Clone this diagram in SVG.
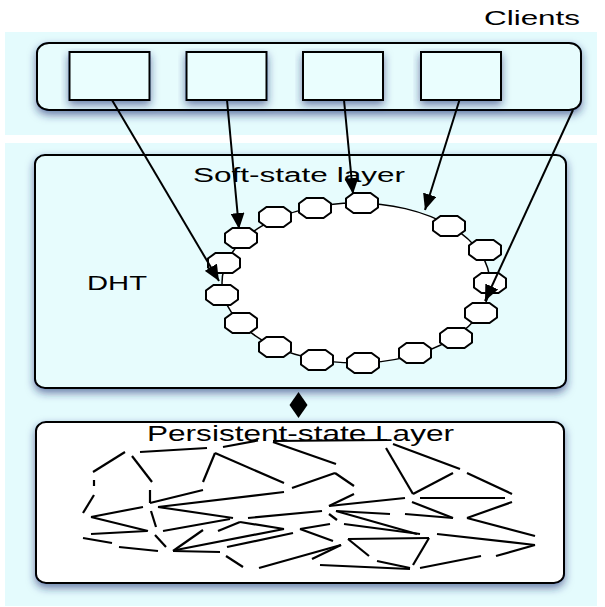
<svg xmlns="http://www.w3.org/2000/svg" xmlns:xlink="http://www.w3.org/1999/xlink" width="605" height="607" viewBox="0 0 605 607">
  <style>
    .band { fill: #e4fbfd; }
    .panel { fill: #e7fcfd; stroke: #000; stroke-width: 2; }
    .white { fill: #ffffff; stroke: #000; stroke-width: 2; }
    .box { fill: #eafefe; stroke: #000; stroke-width: 2; }
    .lbl { font-family: "Liberation Sans", Arial, Helvetica, sans-serif; fill: #000; }
    .edge { stroke: #000; stroke-width: 2; fill: none; }
    .net line { stroke: #000; stroke-width: 2.2; stroke-linecap: butt; }
    .ring { fill: #ffffff; stroke: #000; stroke-width: 1.5; }
    .oct { fill: #ffffff; stroke: #000; stroke-width: 2; }
  </style>
  <defs>
    <filter id="shadow" x="-10%" y="-15%" width="125%" height="150%">
      <feGaussianBlur in="SourceAlpha" stdDeviation="4"/>
      <feOffset dx="0" dy="4" result="blur"/>
      <feFlood flood-color="#1d2b72" flood-opacity="0.6"/>
      <feComposite in2="blur" operator="in"/>
      <feMerge>
        <feMergeNode/>
        <feMergeNode in="SourceGraphic"/>
      </feMerge>
    </filter>
    <marker id="head" markerUnits="userSpaceOnUse" markerWidth="16" markerHeight="14" refX="16" refY="7" orient="auto">
      <path d="M0,0 L16,7 L0,14 z" fill="#000"/>
    </marker>
    <polygon id="octagon" class="oct" points="-8.5,-10 8.5,-10 16,-4.5 16,4.5 8.5,10 -8.5,10 -16,4.5 -16,-4.5"/>
  </defs>

  <!-- background bands -->
  <rect class="band" x="5" y="32" width="592" height="103"/>
  <rect class="band" x="5" y="143" width="592" height="463"/>

  <text class="lbl" x="484" y="24.5" font-size="21" textLength="96" lengthAdjust="spacingAndGlyphs">Clients</text>

  <!-- client tier -->
  <g id="clients">
    <rect class="panel" x="37" y="43" width="544" height="67" rx="12" ry="10" filter="url(#shadow)"/>
  </g>
  <g id="client-1"><rect class="box" x="69.5" y="52" width="80" height="48" filter="url(#shadow)"/></g>
  <g id="client-2"><rect class="box" x="186.5" y="52" width="80" height="48" filter="url(#shadow)"/></g>
  <g id="client-3"><rect class="box" x="303" y="52" width="80" height="48" filter="url(#shadow)"/></g>
  <g id="client-4"><rect class="box" x="421" y="52" width="80" height="48" filter="url(#shadow)"/></g>

  <!-- soft-state layer with DHT ring -->
  <g id="soft-state-layer">
    <rect class="panel" x="35" y="155" width="531" height="233" rx="10" ry="9" filter="url(#shadow)"/>
    <text class="lbl" x="193" y="182" font-size="20" textLength="212" lengthAdjust="spacingAndGlyphs">Soft-state layer</text>
    <text class="lbl" x="87" y="290" font-size="20" textLength="60" lengthAdjust="spacingAndGlyphs">DHT</text>
  </g>
  <g id="dht-ring">
    <ellipse class="ring" cx="356" cy="283" rx="134" ry="80"/>
    <use xlink:href="#octagon" x="362" y="203"/>
    <use xlink:href="#octagon" x="315" y="208"/>
    <use xlink:href="#octagon" x="275" y="217"/>
    <use xlink:href="#octagon" x="241" y="238"/>
    <use xlink:href="#octagon" x="224" y="263"/>
    <use xlink:href="#octagon" x="222" y="295"/>
    <use xlink:href="#octagon" x="241" y="323"/>
    <use xlink:href="#octagon" x="275" y="347"/>
    <use xlink:href="#octagon" x="317" y="360"/>
    <use xlink:href="#octagon" x="363" y="363"/>
    <use xlink:href="#octagon" x="415" y="353"/>
    <use xlink:href="#octagon" x="456" y="338"/>
    <use xlink:href="#octagon" x="481" y="313"/>
    <use xlink:href="#octagon" x="490" y="283"/>
    <use xlink:href="#octagon" x="485" y="250"/>
    <use xlink:href="#octagon" x="449" y="226"/>
  </g>

  <!-- persistent-state layer with storage graph -->
  <g id="persistent-state-layer">
    <rect class="white" x="36" y="422" width="528" height="161" rx="10" ry="9" filter="url(#shadow)"/>
    <text class="lbl" x="147" y="440.5" font-size="22" textLength="307" lengthAdjust="spacingAndGlyphs">Persistent-state Layer</text>
    <g class="net">
      <line x1="93" y1="472" x2="125" y2="452"/>
      <line x1="140" y1="452" x2="207" y2="448"/>
      <line x1="223" y1="447" x2="258" y2="440.5"/>
      <line x1="273" y1="441" x2="387" y2="440"/>
      <line x1="273" y1="442" x2="336" y2="464"/>
      <line x1="386" y1="448" x2="413" y2="494"/>
      <line x1="393" y1="444" x2="460" y2="469"/>
      <line x1="413" y1="494" x2="453" y2="473"/>
      <line x1="467" y1="473" x2="512" y2="494"/>
      <line x1="132" y1="456" x2="152" y2="482"/>
      <line x1="94" y1="480" x2="94" y2="486"/>
      <line x1="94" y1="495" x2="83" y2="513"/>
      <line x1="150" y1="490" x2="150" y2="503"/>
      <line x1="150" y1="503" x2="203" y2="490"/>
      <line x1="215" y1="453" x2="203" y2="482"/>
      <line x1="215" y1="453" x2="284" y2="483"/>
      <line x1="292" y1="488" x2="335" y2="473"/>
      <line x1="335" y1="473" x2="354" y2="486"/>
      <line x1="354" y1="494" x2="329" y2="506"/>
      <line x1="329" y1="506" x2="405" y2="498"/>
      <line x1="420" y1="498" x2="505" y2="498"/>
      <line x1="158" y1="507" x2="284" y2="492"/>
      <line x1="158" y1="507" x2="233" y2="518"/>
      <line x1="91" y1="517" x2="143" y2="507"/>
      <line x1="91" y1="517" x2="148" y2="531"/>
      <line x1="151" y1="511" x2="156" y2="527"/>
      <line x1="248" y1="518" x2="322" y2="511"/>
      <line x1="336" y1="511" x2="417" y2="534"/>
      <line x1="329" y1="514" x2="337" y2="520"/>
      <line x1="336" y1="511" x2="390" y2="514"/>
      <line x1="405" y1="514" x2="453" y2="518"/>
      <line x1="412" y1="502" x2="453" y2="518"/>
      <line x1="467" y1="518" x2="512" y2="502"/>
      <line x1="467" y1="518" x2="535" y2="536"/>
      <line x1="163" y1="531" x2="230" y2="519"/>
      <line x1="91" y1="534" x2="147" y2="531"/>
      <line x1="218" y1="531" x2="240" y2="522"/>
      <line x1="240" y1="522" x2="284" y2="529"/>
      <line x1="300" y1="529" x2="330" y2="524"/>
      <line x1="300" y1="529" x2="333" y2="541"/>
      <line x1="344" y1="524" x2="420" y2="534"/>
      <line x1="437" y1="534" x2="535" y2="545"/>
      <line x1="83" y1="538" x2="112" y2="543"/>
      <line x1="119" y1="547" x2="158" y2="551"/>
      <line x1="155" y1="535" x2="166" y2="547"/>
      <line x1="173" y1="551" x2="203" y2="530"/>
      <line x1="173" y1="551" x2="220" y2="552"/>
      <line x1="176" y1="550" x2="284" y2="529"/>
      <line x1="227" y1="547" x2="293" y2="533"/>
      <line x1="348" y1="539" x2="429" y2="538"/>
      <line x1="348" y1="539" x2="369" y2="556"/>
      <line x1="429" y1="538" x2="413" y2="565"/>
      <line x1="420" y1="568" x2="481" y2="556"/>
      <line x1="496" y1="556" x2="535" y2="545"/>
      <line x1="226" y1="556" x2="243" y2="567"/>
      <line x1="259" y1="568" x2="341" y2="545"/>
      <line x1="312" y1="559" x2="341" y2="545"/>
      <line x1="320" y1="565" x2="410" y2="569"/>
      <line x1="377" y1="561" x2="410" y2="568"/>
    </g>
  </g>

  <!-- connectors -->
  <g id="connectors">
    <line class="edge" x1="112" y1="100" x2="219" y2="281" marker-end="url(#head)"/>
    <line class="edge" x1="227" y1="100" x2="239" y2="229" marker-end="url(#head)"/>
    <line class="edge" x1="344" y1="100" x2="353" y2="194" marker-end="url(#head)"/>
    <line class="edge" x1="459.5" y1="100" x2="425" y2="210" marker-end="url(#head)"/>
    <line class="edge" x1="573" y1="110" x2="485" y2="301" marker-end="url(#head)"/>
    <polygon points="298.5,392 307.5,405 298.5,418 289.5,405" fill="#000"/>
  </g>
</svg>
